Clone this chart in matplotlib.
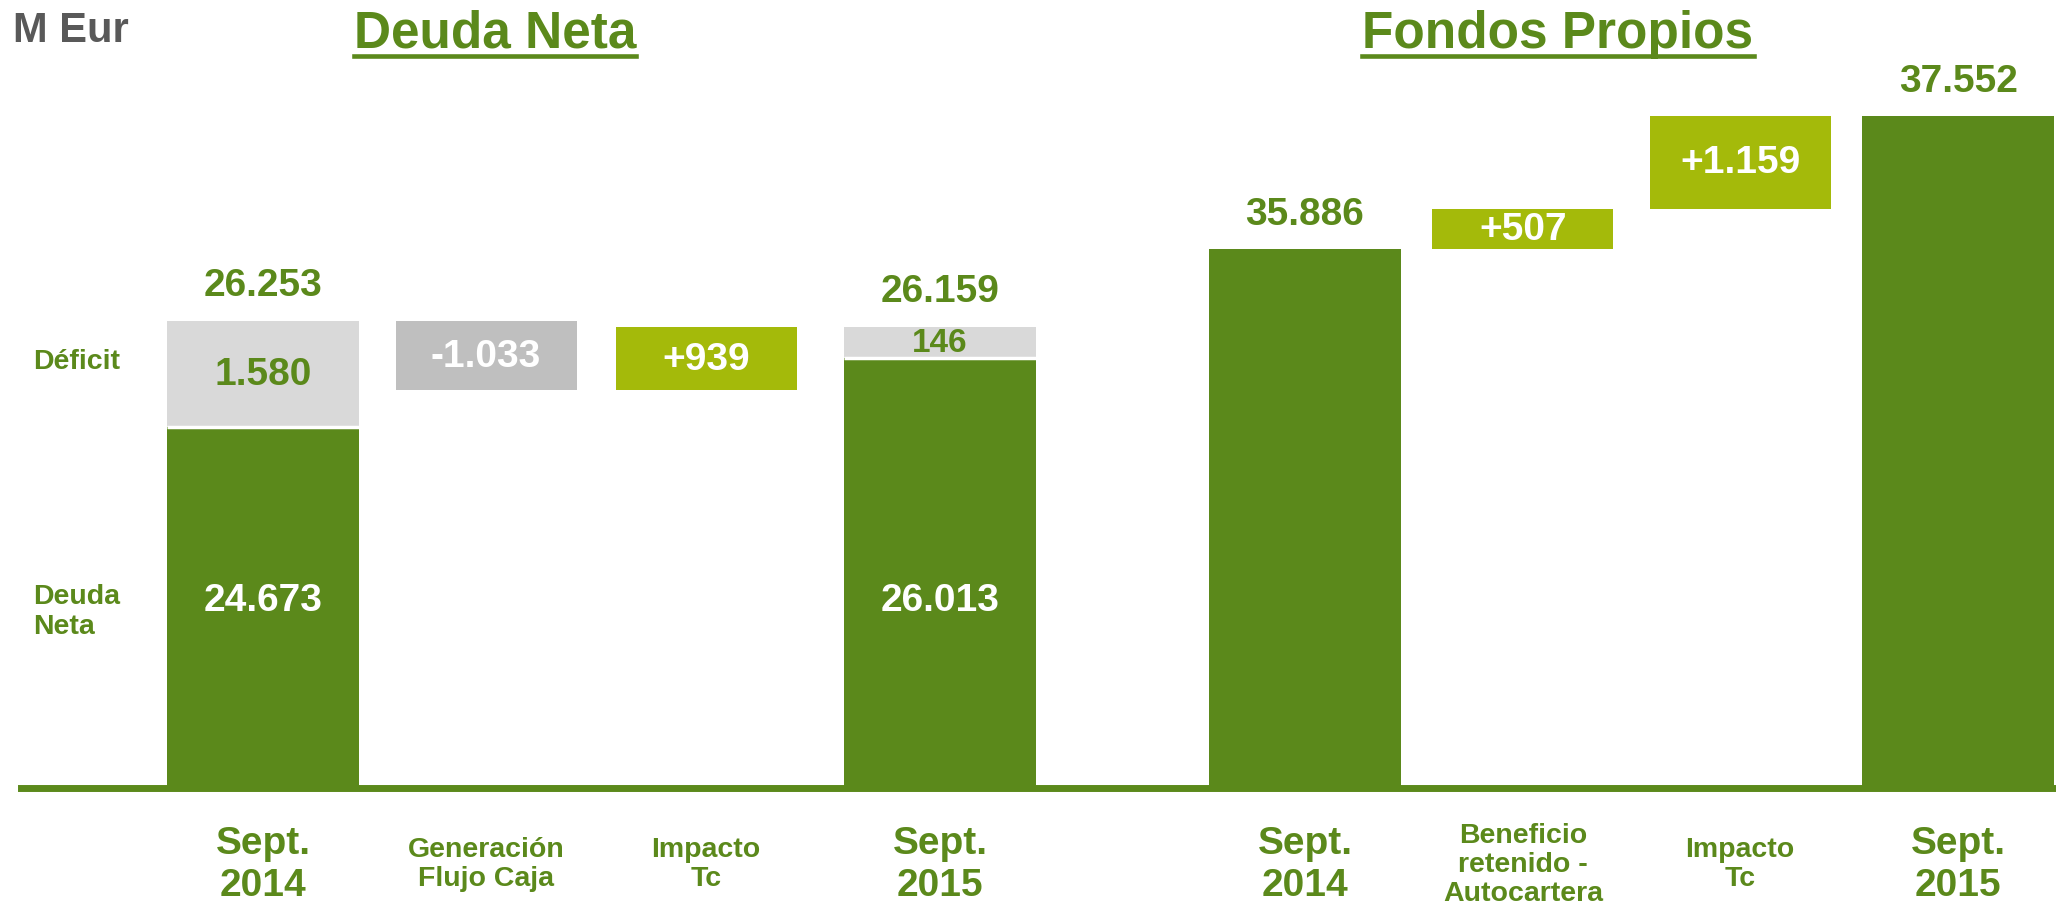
import matplotlib
matplotlib.use('Agg')
import matplotlib.pyplot as plt
from matplotlib.lines import Line2D
from matplotlib.transforms import blended_transform_factory

plt.rcParams['font.family'] = ['Liberation Sans', 'DejaVu Sans']
plt.rcParams['font.weight'] = 'bold'

# values in M Eur
deuda_cats = ['Sept.\n2014', 'Generación\nFlujo Caja', 'Impacto\nTc', 'Sept.\n2015']
deuda_neta = [24673, 26013]          # Sept 2014, Sept 2015
deficit = [1580, 146]
deuda_deltas = [-1033, 939]          # flujo caja, impacto tc

fp_cats = ['Sept.\n2014', 'Beneficio\nretenido -\nAutocartera', 'Impacto\nTc', 'Sept.\n2015']
fondos_propios = [35886, 37552]
fp_deltas = [507, 1159]              # beneficio retenido, impacto tc

GREEN = '#5B891B'
LIME = '#A4BA0A'
GREY_L = '#D9D9D9'
GREY_D = '#BFBFBF'

W, H = 2056, 903
BASE = 789          # baseline row in pixels from top
MIN_BAND = 450      # smallest drawn deficit band, so its label fits


def fmt(v, sign=False):
    s = f"{abs(v):,}".replace(',', '.')
    if v < 0:
        return '-' + s
    return ('+' + s) if sign else s


fig = plt.figure(figsize=(W / 100, H / 100), dpi=100)
ax = fig.add_axes([0, (H - BASE) / H, 1, BASE / H])
ax2 = ax.twinx()

# truncated value axes (chart is schematic, both halves have own scale)
d0, f0 = 19285, 29132
ax.set_ylim(d0, d0 + BASE / 0.067)
ax2.set_ylim(f0, f0 + BASE / 0.0798)
ax.set_xlim(-263 / 220, (W - 263) / 220)
for a in (ax, ax2):
    a.axis('off')

pos_d = [0, 1.014, 2.014, 3.077]
pos_f = [4.736, 5.727, 6.714, 7.705]
w_main, w_delta = 0.873, 0.823

# ---- Deuda Neta ----
ends_x = [pos_d[0], pos_d[3]]
totals = [n + d for n, d in zip(deuda_neta, deficit)]
bands = [max(d, MIN_BAND) for d in deficit]
green_tops = [t - b for t, b in zip(totals, bands)]
ax.bar(ends_x, [g - d0 for g in green_tops], bottom=d0, width=w_main, color=GREEN)
ax.bar(ends_x, bands, bottom=green_tops, width=w_main, color=GREY_L)
ax.hlines(green_tops, [x - w_main / 2 for x in ends_x], [x + w_main / 2 for x in ends_x],
          color='white', lw=2.5)

inner = blended_transform_factory(ax.transData, ax.transAxes)
for x, tot, gt, b, d, n in zip(ends_x, totals, green_tops, bands, deficit, deuda_neta):
    ax.annotate(fmt(tot), (x, tot), xytext=(0, 26), textcoords='offset points',
                ha='center', va='center', color=GREEN, fontsize=28)
    ax.text(x, gt + b / 2, fmt(d), ha='center', va='center', color=GREEN,
            fontsize=28 if d >= MIN_BAND else 24)
    ax.text(x, 0.238, fmt(n), transform=inner, ha='center', va='center',
            color='white', fontsize=28)

level = totals[0]
for x, dv in zip(pos_d[1:3], deuda_deltas):
    new = level + dv
    ax.bar(x, abs(dv), bottom=min(level, new), width=w_delta,
           color=GREY_D if dv < 0 else LIME)
    ax.text(x, (level + new) / 2, fmt(dv, sign=True), ha='center', va='center',
            color='white', fontsize=28)
    level = new

# ---- Fondos Propios ----
fx = [pos_f[0], pos_f[3]]
ax2.bar(fx, [v - f0 for v in fondos_propios], bottom=f0, width=w_main, color=GREEN)
for x, v in zip(fx, fondos_propios):
    ax2.annotate(fmt(v), (x, v), xytext=(0, 25), textcoords='offset points',
                 ha='center', va='center', color=GREEN, fontsize=28)

level = fondos_propios[0]
for x, dv in zip(pos_f[1:3], fp_deltas):
    new = level + dv
    ax2.bar(x, abs(dv), bottom=min(level, new), width=w_delta,
            color=GREY_D if dv < 0 else LIME)
    ax2.text(x, (level + new) / 2, fmt(dv, sign=True), ha='center', va='center',
             color='white', fontsize=28)
    level = new

# baseline
ax.axhline(d0, xmin=21 / W, xmax=1, color=GREEN, lw=5, clip_on=False)

# category labels
lab = blended_transform_factory(ax.transData, fig.transFigure)
for x, c in zip(pos_d + pos_f, deuda_cats + fp_cats):
    big = c.startswith('Sept')
    ax.text(x, 1 - 865 / H, c, transform=lab, ha='center', va='center',
            color=GREEN, fontsize=28 if big else 20.5,
            linespacing=1.2 if big else 1.15, clip_on=False)

# side labels, unit, titles
fig.text(33 / W, 1 - 362 / H, 'Déficit', ha='left', va='center', color=GREEN, fontsize=20.5)
fig.text(33 / W, 1 - 612 / H, 'Deuda\nNeta', ha='left', va='center', color=GREEN,
         fontsize=20.5, linespacing=1.25)
fig.text(13 / W, 1 - 42 / H, 'M Eur', ha='left', va='baseline', color='#595959', fontsize=30)

fig.canvas.draw()
for txt, cx in [('Deuda Neta', 495), ('Fondos Propios', 1558)]:
    t = fig.text(cx / W, 1 - 48 / H, txt, ha='center', va='baseline', color=GREEN, fontsize=37)
    bb = t.get_window_extent(renderer=fig.canvas.get_renderer())
    fig.add_artist(Line2D([bb.x0 / W, bb.x1 / W], [1 - 57 / H] * 2, color=GREEN, lw=3.3,
                          transform=fig.transFigure))

fig.savefig('out.png', dpi=100)
